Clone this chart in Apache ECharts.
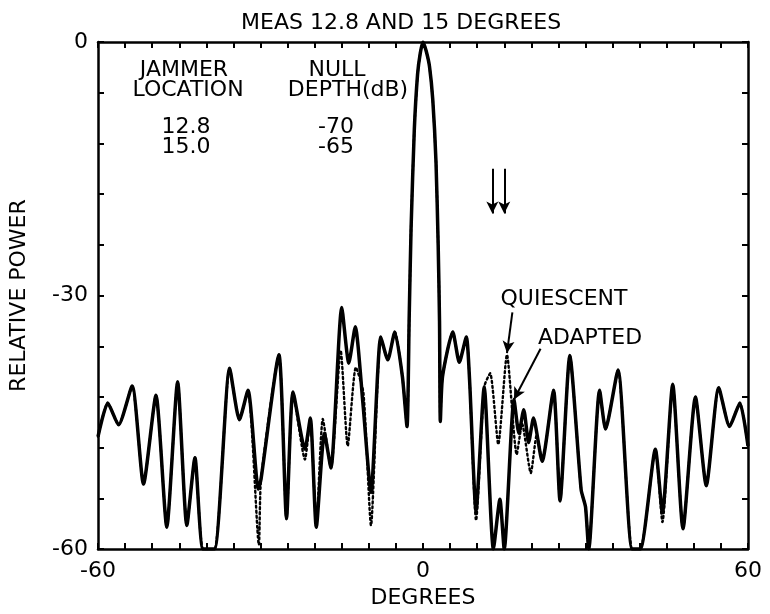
<!DOCTYPE html>
<html>
<head>
<meta charset="utf-8">
<script src="https://cdn.jsdelivr.net/npm/echarts@6/dist/echarts.min.js"></script>
<style>
    html, body { margin: 0; padding: 0; background: #fff; }
    #chart { width: 770px; height: 614px; }
</style>
</head>
<body>
<div id="chart"></div>
<script>
// adapted pattern (solid)
var angles = [-60, -58.2, -56.2, -53.7, -51.6, -49.3, -47.3, -45.3, -43.6, -42.1, -40.6, -38.5,
    -35.7, -33.9, -32.3, -30.4, -29.9, -26.6, -25.2, -24.0, -21.8, -20.8, -19.7, -18.2, -17.0,
    -15.0, -13.7, -12.5, -11.1, -9.6, -7.8, -6.5, -5.2, -3.8, -2.95, -2.55, -2.2, -1.6, -1.0, -0.5, 0,
    0.6, 1.2, 1.8, 2.4, 2.8, 3.05, 3.2, 3.6, 5.5, 6.7, 8.0, 8.6, 9.8, 11.3, 13.0, 14.2, 15.0,
    16.8, 17.7, 18.6, 19.5, 20.4, 22.0, 24.1, 25.3, 27.1, 29.2, 30.0, 30.6, 32.6, 33.7, 36.0,
    38.6, 40.1, 42.9, 44.2, 46.1, 48.0, 50.3, 52.3, 54.6, 56.6, 58.5, 60];
var adapted = [-46.7, -42.7, -45.3, -40.7, -52.3, -41.8, -57.4, -40.2, -57.2, -49.2, -60, -60,
    -38.6, -44.7, -41.2, -52.9, -51.7, -37.0, -56.4, -41.4, -48.2, -44.5, -57.4, -46.3, -50.4,
    -31.4, -38.0, -33.7, -42.7, -53.3, -34.9, -37.6, -34.3, -39.6, -45.5, -32.6, -22, -10.3, -3.8, -1.3, 0,
    -1.1, -2.9, -6.8, -14.2, -24, -33, -44.9, -39.6, -34.3, -37.9, -34.9, -40, -55.5, -40.8, -60, -54.1, -60,
    -42.3, -46.3, -43.5, -47.4, -44.5, -49.6, -41.2, -54.3, -37.1, -53, -55, -60, -41.2, -45.8, -38.8,
    -60, -60, -48.2, -55.7, -40.5, -57.6, -42.0, -52.5, -40.9, -45.5, -42.7, -47.8];

// quiescent pattern (dotted)
var qAngles = [-60, -58.2, -56.2, -53.7, -51.6, -49.3, -47.3, -45.3, -43.6, -42.1, -40.6, -38.5,
    -35.7, -33.9, -32.3, -30.3, -29.9, -26.6, -25.2, -24.0, -21.8, -20.8, -19.7, -18.5, -17.0,
    -15.2, -13.9, -12.4, -11.0, -9.6, -7.8, -6.5, -5.2, -3.8, -2.95, -2.55, -2.2, -1.6, -1.0, -0.5, 0,
    0.6, 1.2, 1.8, 2.4, 2.8, 3.05, 3.2, 3.6, 5.5, 6.7, 8.0, 8.6, 9.8, 11.3, 12.4, 13.9, 15.5,
    17.3, 18.3, 19.9, 21.0, 22.0, 24.1, 25.3, 27.1, 29.2, 30.0, 30.6, 32.6, 33.7, 36.0,
    38.6, 40.1, 42.9, 44.2, 46.1, 48.0, 50.3, 52.3, 54.6, 56.6, 58.5, 60];
var quiescent = [-46.7, -42.7, -45.3, -40.7, -52.3, -41.8, -57.4, -40.2, -57.2, -49.2, -60, -60,
    -38.6, -44.7, -41.2, -59.5, -51.7, -37.0, -56.4, -41.4, -49.4, -44.5, -57.4, -44.6, -50.4,
    -36.5, -47.8, -38.5, -41.5, -57.2, -34.9, -37.6, -34.3, -39.6, -45.5, -32.6, -22, -10.3, -3.8, -1.3, 0,
    -1.1, -2.9, -6.8, -14.2, -24, -33, -44.9, -39.6, -34.3, -37.9, -34.9, -40, -56.6, -40.8, -39.2, -47.6, -37.0,
    -48.8, -45.2, -51.0, -46.5, -49.6, -41.2, -54.3, -37.1, -53, -55, -60, -41.2, -45.8, -38.8,
    -60, -60, -48.2, -56.8, -40.5, -57.6, -42.0, -52.5, -40.9, -45.5, -42.7, -47.8];

var xTickLabels = [-60, 0, 60];
var yTickLabels = [0, -30, -60];
var jammerLocations = ['12.8', '15.0'];
var nullDepths = ['-70', '-65'];
var jammerAngles = [12.8, 15.0];
var quiescentArrow = [[16.5, -32.0], [15.5, -36.8]];
var adaptedArrow = [[21.7, -36.3], [16.8, -42.3]];

var FONT = '22px "DejaVu Sans"';

function pairs(xs, ys) {
    var out = [];
    for (var i = 0; i < xs.length; i++) {
        out.push([xs[i], ys[i]]);
    }
    return out;
}

function label(text, x, y) {
    return {
        type: 'text',
        x: x,
        y: y,
        style: { text: text, font: FONT, fill: '#000', align: 'center', verticalAlign: 'middle' }
    };
}

var arrowLines = [];
for (var j = 0; j < jammerAngles.length; j++) {
    arrowLines.push([{ coord: [jammerAngles[j], -15] }, { coord: [jammerAngles[j], -20.3] }]);
}
arrowLines.push([{ coord: quiescentArrow[0] }, { coord: quiescentArrow[1] }]);
arrowLines.push([{ coord: adaptedArrow[0] }, { coord: adaptedArrow[1] }]);

var tableText = [
    label('JAMMER', 184, 70), label('LOCATION', 188, 90),
    label('NULL', 337, 70), label('DEPTH(dB)', 348, 90)
];
for (var k = 0; k < jammerLocations.length; k++) {
    tableText.push(label(jammerLocations[k], 186, 127 + k * 20));
    tableText.push(label(nullDepths[k], 336, 127 + k * 20));
}
tableText.push(label('QUIESCENT', 564, 299));
tableText.push(label('ADAPTED', 590, 338));

var axisLine = { show: true, onZero: false, lineStyle: { color: '#000', width: 2.5 } };
var axisTick = { show: true, inside: true, length: 6, lineStyle: { color: '#000', width: 2 } };

var myChart = echarts.init(document.getElementById('chart'));
var option = {
    animation: false,
    backgroundColor: '#fff',
    title: {
        text: 'MEAS 12.8 AND 15 DEGREES',
        left: 236,
        top: 7,
        textStyle: { fontFamily: 'DejaVu Sans', fontSize: 22, fontWeight: 'normal', color: '#000' }
    },
    grid: { left: 96, right: 22, top: 42, bottom: 61 },
    xAxis: [{
        type: 'value',
        min: -60,
        max: 60,
        interval: 5,
        position: 'bottom',
        name: 'DEGREES',
        nameLocation: 'middle',
        nameGap: 35,
        nameTextStyle: { fontFamily: 'DejaVu Sans', fontSize: 22, color: '#000' },
        axisLine: axisLine,
        axisTick: axisTick,
        splitLine: { show: false },
        axisLabel: {
            fontFamily: 'DejaVu Sans', fontSize: 22, color: '#000', margin: 11,
            formatter: function(v) { return xTickLabels.indexOf(v) >= 0 ? String(v) : ''; }
        }
    }, {
        type: 'value',
        min: -60,
        max: 60,
        interval: 5,
        position: 'top',
        axisLine: axisLine,
        axisTick: axisTick,
        splitLine: { show: false },
        axisLabel: { show: false }
    }],
    yAxis: [{
        type: 'value',
        min: -60,
        max: 0,
        interval: 6,
        position: 'left',
        name: 'RELATIVE POWER',
        nameLocation: 'middle',
        nameRotate: 90,
        nameGap: 68,
        nameTextStyle: { fontFamily: 'DejaVu Sans', fontSize: 22, color: '#000' },
        axisLine: axisLine,
        axisTick: axisTick,
        splitLine: { show: false },
        axisLabel: {
            fontFamily: 'DejaVu Sans', fontSize: 22, color: '#000', margin: 10,
            formatter: function(v) { return yTickLabels.indexOf(v) >= 0 ? String(v) : ''; }
        }
    }, {
        type: 'value',
        min: -60,
        max: 0,
        interval: 6,
        position: 'right',
        axisLine: axisLine,
        axisTick: axisTick,
        splitLine: { show: false },
        axisLabel: { show: false }
    }],
    series: [{
        name: 'QUIESCENT',
        type: 'line',
        data: pairs(qAngles, quiescent),
        showSymbol: false,
        smooth: 0.2,
        clip: true,
        lineStyle: { color: '#000', width: 2.4, type: [2, 3], cap: 'round' },
        z: 2
    }, {
        name: 'ADAPTED',
        type: 'line',
        data: pairs(angles, adapted),
        showSymbol: false,
        smooth: 0.2,
        clip: true,
        lineStyle: { color: '#000', width: 3.5 },
        z: 3,
        markLine: {
            silent: true,
            symbol: ['none', 'arrow'],
            symbolSize: [9, 12],
            label: { show: false },
            lineStyle: { color: '#000', width: 2, type: 'solid' },
            data: arrowLines
        }
    }],
    graphic: tableText
};
myChart.setOption(option);
</script>
</body>
</html>
